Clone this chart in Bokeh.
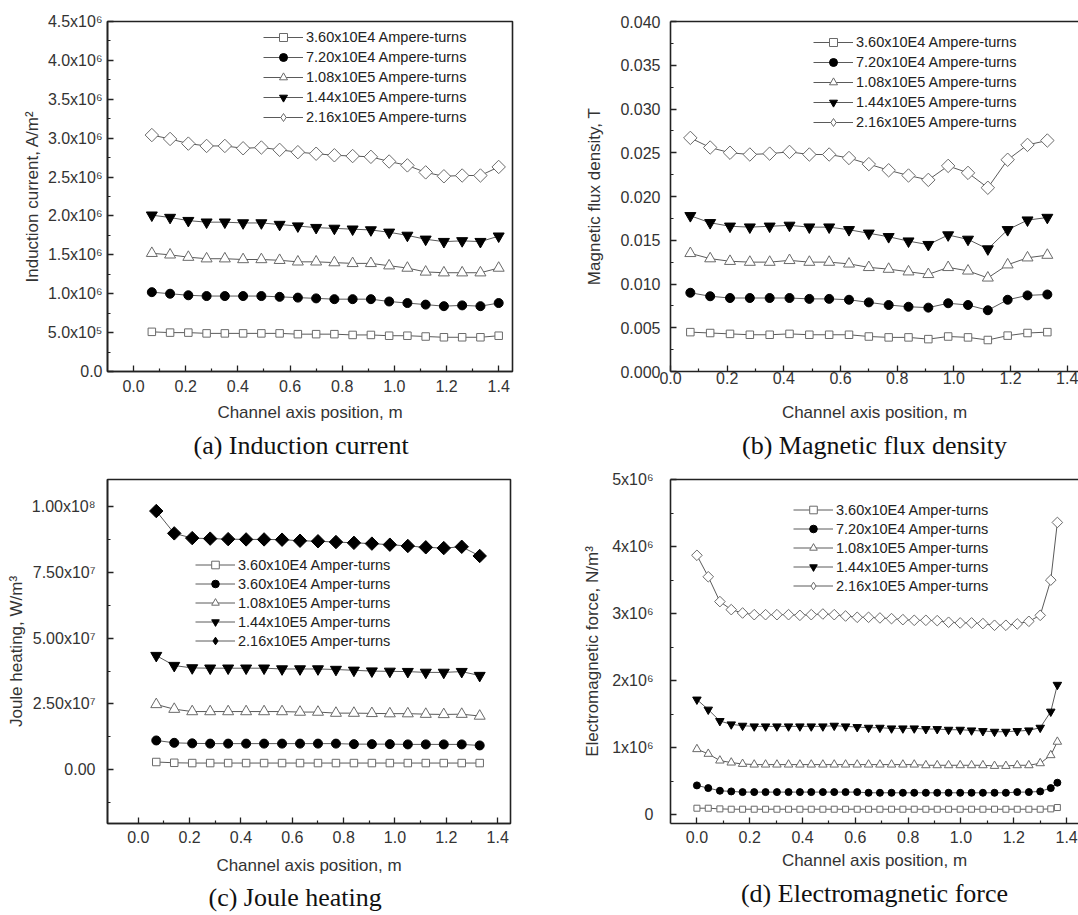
import math
from bokeh.plotting import figure
from bokeh.models import (FixedTicker, Range1d, LinearAxis, Legend, LegendItem, Title)
from bokeh.layouts import column, row
from bokeh.embed import file_html
from bokeh.resources import INLINE

FONT = "Liberation Sans"
SERIF = "Liberation Serif"

# ---------------- data ----------------
series_a = ["3.60x10E4 Ampere-turns", "7.20x10E4 Ampere-turns", "1.08x10E5 Ampere-turns",
            "1.44x10E5 Ampere-turns", "2.16x10E5 Ampere-turns"]
series_c = ["3.60x10E4 Amper-turns", "3.60x10E4 Amper-turns", "1.08x10E5 Amper-turns",
            "1.44x10E5 Amper-turns", "2.16x10E5 Amper-turns"]
series_d = ["3.60x10E4 Amper-turns", "7.20x10E4 Amper-turns", "1.08x10E5 Amper-turns",
            "1.44x10E5 Amper-turns", "2.16x10E5 Amper-turns"]

# (a) Induction current, A/m^2 (values in 1e6)
x_a = [0.07, 0.14, 0.21, 0.28, 0.35, 0.42, 0.49, 0.56, 0.63, 0.70,
       0.77, 0.84, 0.91, 0.98, 1.05, 1.12, 1.19, 1.26, 1.33, 1.40]
a_1 = [0.51, 0.50, 0.50, 0.49, 0.49, 0.49, 0.49, 0.49, 0.48, 0.48,
       0.48, 0.47, 0.47, 0.46, 0.46, 0.45, 0.44, 0.44, 0.44, 0.46]
a_2 = [1.02, 1.00, 0.98, 0.97, 0.97, 0.97, 0.97, 0.96, 0.95, 0.94,
       0.93, 0.93, 0.93, 0.90, 0.88, 0.86, 0.84, 0.85, 0.84, 0.88]
a_3 = [1.52, 1.50, 1.47, 1.45, 1.45, 1.44, 1.44, 1.43, 1.41, 1.41,
       1.40, 1.39, 1.39, 1.36, 1.33, 1.28, 1.27, 1.27, 1.27, 1.33]
a_4 = [2.01, 1.98, 1.94, 1.92, 1.92, 1.91, 1.91, 1.89, 1.87, 1.85,
       1.84, 1.83, 1.82, 1.79, 1.75, 1.70, 1.67, 1.68, 1.67, 1.74]
a_5 = [3.04, 2.99, 2.93, 2.90, 2.90, 2.87, 2.88, 2.85, 2.82, 2.80,
       2.78, 2.77, 2.76, 2.70, 2.65, 2.56, 2.51, 2.52, 2.52, 2.63]
a_unit = 1e6

# (b) Magnetic flux density, T
x_b = [0.07, 0.14, 0.21, 0.28, 0.35, 0.42, 0.49, 0.56, 0.63, 0.70,
       0.77, 0.84, 0.91, 0.98, 1.05, 1.12, 1.19, 1.26, 1.33]
b_1 = [0.0045, 0.0044, 0.0043, 0.0042, 0.0042, 0.0043, 0.0042, 0.0042, 0.0042, 0.0040,
       0.0039, 0.0039, 0.0037, 0.0040, 0.0039, 0.0036, 0.0041, 0.0044, 0.0045]
b_2 = [0.0090, 0.0086, 0.0084, 0.0084, 0.0084, 0.0084, 0.0083, 0.0083, 0.0082, 0.0079,
       0.0076, 0.0074, 0.0073, 0.0078, 0.0076, 0.0070, 0.0082, 0.0087, 0.0088]
b_3 = [0.0135, 0.0129, 0.0126, 0.0125, 0.0125, 0.0127, 0.0125, 0.0125, 0.0123, 0.0119,
       0.0117, 0.0114, 0.0111, 0.0119, 0.0115, 0.0107, 0.0122, 0.0130, 0.0133]
b_4 = [0.0178, 0.0170, 0.0166, 0.0165, 0.0166, 0.0167, 0.0165, 0.0165, 0.0162, 0.0158,
       0.0154, 0.0149, 0.0145, 0.0156, 0.0151, 0.0140, 0.0162, 0.0173, 0.0176]
b_5 = [0.0267, 0.0256, 0.0250, 0.0248, 0.0249, 0.0251, 0.0248, 0.0248, 0.0244, 0.0237,
       0.0230, 0.0224, 0.0219, 0.0235, 0.0227, 0.0210, 0.0242, 0.0259, 0.0264]

# (c) Joule heating, W/m^3 (values in 1e7)
x_c = [0.07, 0.14, 0.21, 0.28, 0.35, 0.42, 0.49, 0.56, 0.63, 0.70,
       0.77, 0.84, 0.91, 0.98, 1.05, 1.12, 1.19, 1.26, 1.33]
c_1 = [0.29, 0.26, 0.25, 0.25, 0.25, 0.25, 0.25, 0.25, 0.25, 0.25,
       0.25, 0.25, 0.25, 0.25, 0.25, 0.25, 0.25, 0.25, 0.25]
c_2 = [1.11, 1.02, 1.00, 0.99, 0.99, 0.99, 0.99, 0.99, 0.99, 0.99,
       0.99, 0.97, 0.97, 0.97, 0.96, 0.96, 0.96, 0.96, 0.92]
c_3 = [2.48, 2.30, 2.21, 2.21, 2.21, 2.21, 2.21, 2.21, 2.19, 2.19,
       2.15, 2.15, 2.14, 2.13, 2.13, 2.11, 2.10, 2.11, 2.04]
c_4 = [4.34, 3.96, 3.87, 3.86, 3.86, 3.86, 3.86, 3.83, 3.83, 3.83,
       3.81, 3.78, 3.75, 3.74, 3.73, 3.70, 3.70, 3.73, 3.58]
c_5 = [9.84, 8.99, 8.81, 8.79, 8.77, 8.76, 8.76, 8.75, 8.71, 8.69,
       8.66, 8.63, 8.60, 8.56, 8.51, 8.46, 8.43, 8.48, 8.13]
c_unit = 1e7

# (d) Electromagnetic force, N/m^3 (values in 1e6)
x_d = [0.0, 0.043, 0.087, 0.13, 0.173, 0.217, 0.26, 0.303, 0.347, 0.39,
       0.433, 0.477, 0.52, 0.563, 0.607, 0.65, 0.693, 0.737, 0.78, 0.823,
       0.867, 0.91, 0.953, 0.997, 1.04, 1.083, 1.127, 1.17, 1.213, 1.257,
       1.30, 1.34, 1.365]
d_1 = [0.10, 0.10, 0.09, 0.085, 0.085, 0.085, 0.085, 0.085, 0.085, 0.085,
       0.085, 0.085, 0.085, 0.085, 0.085, 0.085, 0.085, 0.085, 0.085, 0.085,
       0.085, 0.085, 0.085, 0.085, 0.085, 0.085, 0.085, 0.085, 0.085, 0.085,
       0.085, 0.09, 0.11]
d_2 = [0.44, 0.40, 0.36, 0.35, 0.34, 0.34, 0.34, 0.34, 0.34, 0.34,
       0.34, 0.34, 0.34, 0.34, 0.34, 0.33, 0.33, 0.33, 0.33, 0.33,
       0.33, 0.33, 0.33, 0.33, 0.33, 0.33, 0.33, 0.33, 0.34, 0.34,
       0.35, 0.40, 0.48]
d_3 = [0.98, 0.91, 0.81, 0.78, 0.76, 0.75, 0.75, 0.75, 0.75, 0.75,
       0.75, 0.75, 0.75, 0.75, 0.75, 0.75, 0.75, 0.75, 0.75, 0.75,
       0.74, 0.74, 0.74, 0.74, 0.74, 0.74, 0.73, 0.73, 0.74, 0.74,
       0.77, 0.89, 1.09]
d_4 = [1.72, 1.57, 1.40, 1.35, 1.33, 1.32, 1.32, 1.32, 1.32, 1.32,
       1.32, 1.32, 1.33, 1.32, 1.31, 1.30, 1.30, 1.29, 1.29, 1.29,
       1.28, 1.28, 1.27, 1.27, 1.26, 1.25, 1.24, 1.24, 1.25, 1.26,
       1.30, 1.54, 1.94]
d_5 = [3.87, 3.55, 3.18, 3.06, 3.01, 2.985, 2.985, 2.985, 2.985, 2.975,
       2.985, 2.995, 2.985, 2.965, 2.946, 2.946, 2.936, 2.926, 2.911, 2.901,
       2.901, 2.896, 2.872, 2.862, 2.862, 2.852, 2.827, 2.827, 2.847, 2.886,
       2.975, 3.50, 4.36]
d_unit = 1e6

# ticks
x_ticks = [0.0, 0.2, 0.4, 0.6, 0.8, 1.0, 1.2, 1.4]
x_tick_labels = ["0.0", "0.2", "0.4", "0.6", "0.8", "1.0", "1.2", "1.4"]
x_minor = [0.1, 0.3, 0.5, 0.7, 0.9, 1.1, 1.3]

a_ticks = [0, 500000, 1000000, 1500000, 2000000, 2500000, 3000000, 3500000, 4000000, 4500000]
a_labels = ["0.0", "5.0x10\u2075", "1.0x10\u2076", "1.5x10\u2076", "2.0x10\u2076", "2.5x10\u2076",
            "3.0x10\u2076", "3.5x10\u2076", "4.0x10\u2076", "4.5x10\u2076"]
a_minor = [250000, 750000, 1250000, 1750000, 2250000, 2750000, 3250000, 3750000, 4250000]

b_ticks = [0.0, 0.005, 0.01, 0.015, 0.02, 0.025, 0.03, 0.035, 0.04]
b_labels = ["0.000", "0.005", "0.010", "0.015", "0.020", "0.025", "0.030", "0.035", "0.040"]
b_minor = [0.0025, 0.0075, 0.0125, 0.0175, 0.0225, 0.0275, 0.0325, 0.0375]

c_ticks = [0, 25000000, 50000000, 75000000, 100000000]
c_labels = ["0.00", "2.50x10\u2077", "5.00x10\u2077", "7.50x10\u2077", "1.00x10\u2078"]
c_minor = [-12500000, 12500000, 37500000, 62500000, 87500000]

d_ticks = [0, 1000000, 2000000, 3000000, 4000000, 5000000]
d_labels = ["0", "1x10\u2076", "2x10\u2076", "3x10\u2076", "4x10\u2076", "5x10\u2076"]
d_minor = [500000, 1500000, 2500000, 3500000, 4500000]

# ---------------- styling helpers ----------------
INK = "#222222"
LINE = "#5a5a5a"
OPEN = "#6a6a6a"


def make_fig(width, height, xr, yr, borders, outline):
    left, right, top, bottom = borders
    p = figure(width=width, height=height, x_range=Range1d(*xr), y_range=Range1d(*yr),
               output_backend="svg", toolbar_location=None,
               min_border_left=left, min_border_right=right,
               min_border_top=top, min_border_bottom=bottom)
    p.xgrid.visible = False
    p.ygrid.visible = False
    p.background_fill_color = "white"
    p.border_fill_color = "white"
    xax = p.below[0]
    yax = p.left[0]
    if outline:
        p.outline_line_color = INK
        p.outline_line_width = 1.6
    else:
        p.outline_line_color = None
        top_ax = LinearAxis(ticker=FixedTicker(ticks=[]), axis_line_color=INK,
                            axis_line_width=1.6, major_tick_line_color=None,
                            minor_tick_line_color=None, major_tick_in=0, major_tick_out=0,
                            minor_tick_in=0, minor_tick_out=0, major_label_standoff=0,
                            major_label_text_font_size="0px")
        p.add_layout(top_ax, "above")
    return p, xax, yax


def style_axis(ax, ticks, labels, minor, label, label_standoff, axis_label_standoff):
    ax.ticker = FixedTicker(ticks=ticks, minor_ticks=minor)
    ax.major_label_overrides = dict(zip(ticks, labels))
    ax.axis_label = label
    ax.axis_line_color = INK
    ax.axis_line_width = 1.6
    ax.major_tick_line_color = INK
    ax.major_tick_line_width = 1.3
    ax.minor_tick_line_color = INK
    ax.minor_tick_line_width = 1.2
    ax.major_tick_in = 6
    ax.major_tick_out = 0
    ax.minor_tick_in = 3
    ax.minor_tick_out = 0
    ax.major_label_text_font = FONT
    ax.major_label_text_font_size = "16px"
    ax.major_label_text_color = "#333333"
    ax.major_label_standoff = label_standoff
    ax.axis_label_text_font = FONT
    ax.axis_label_text_font_size = "17px"
    ax.axis_label_text_font_style = "normal"
    ax.axis_label_text_color = "#333333"
    ax.axis_label_standoff = axis_label_standoff


def add_series(p, xs, ys_list, unit, labels, sizes, diamond_fill, legend_xy, row_h):
    dline = "black" if diamond_fill == "black" else OPEN
    specs = [
        dict(marker="square", fill_color="white", line_color=OPEN),
        dict(marker="circle", fill_color="black", line_color="black"),
        dict(marker="triangle", fill_color="white", line_color=OPEN),
        dict(marker="inverted_triangle", fill_color="black", line_color="black"),
        dict(marker="square", fill_color=diamond_fill, line_color=dline, angle=math.pi / 4),
    ]
    items = []
    for k, (ys, lab, spec, size) in enumerate(zip(ys_list, labels, specs, sizes)):
        yv = [v * unit for v in ys]
        lr = p.line(xs, yv, line_color=LINE, line_width=1)
        sr = p.scatter(xs, yv, size=size, line_width=1, **spec)
        if k == 4:
            # legend glyphs ignore marker angle: use a (hidden) diamond renderer for the key
            kr = p.scatter(xs, yv, marker="diamond", size=size, line_width=1,
                           fill_color=diamond_fill, line_color=dline, visible=False)
            items.append(LegendItem(label=lab, renderers=[lr, kr]))
        else:
            items.append(LegendItem(label=lab, renderers=[lr, sr]))
    leg = Legend(items=items, location=legend_xy, border_line_color=None,
                 background_fill_alpha=0, padding=0, margin=0, spacing=0,
                 glyph_width=40, glyph_height=row_h, label_height=row_h,
                 label_standoff=3, label_text_font=FONT, label_text_font_size="14.5px",
                 label_text_color="#222222")
    p.add_layout(leg)


def add_caption(p, text, standoff, align="center", offset=0):
    t = Title(text=text, align=align, offset=offset, text_font=SERIF, text_font_size="26px",
              text_font_style="normal", text_color="#111111", standoff=standoff)
    p.add_layout(t, "below")


XLABEL = "Channel axis position, m"

# (a)
pa, pa_x, pa_y = make_fig(540, 465, (-0.1, 1.453), (0, 4500000), (107, 28, 21, 94), True)
style_axis(pa_x, x_ticks, x_tick_labels, x_minor, XLABEL, 8, 8)
style_axis(pa_y, a_ticks, a_labels, a_minor, "Induction current, A/m\u00b2", 5, 3)
add_series(pa, x_a, [a_1, a_2, a_3, a_4, a_5], a_unit, series_a,
           [7.5, 9, 11, 11, 9.5], "white", (156, 244), 20)
add_caption(pa, "(a) Induction current", 8, "left", 86)

# (b)
pb, pb_x, pb_y = make_fig(538, 465, (0.0, 1.44), (0.0, 0.04), (130, 0, 21, 94), False)
style_axis(pb_x, x_ticks, x_tick_labels, x_minor, XLABEL, 0, 16)
style_axis(pb_y, b_ticks, b_labels, b_minor, "Magnetic flux density, T", 10, 13)
add_series(pb, x_b, [b_1, b_2, b_3, b_4, b_5], 1.0, series_a,
           [7.5, 9, 11, 11, 9.5], "white", (143, 239), 20)
add_caption(pb, "(b) Magnetic flux density", 8)

# (c)
pc, pc_x, pc_y = make_fig(540, 450, (-0.12, 1.45), (-20500000, 110400000), (107, 30, 14, 91), True)
style_axis(pc_x, x_ticks, x_tick_labels, x_minor, XLABEL, 7, 10)
style_axis(pc_y, c_ticks, c_labels, c_minor, "Joule heating, W/m\u00b3", 12, 3)
add_series(pc, x_c, [c_1, c_2, c_3, c_4, c_5], c_unit, series_c,
           [7.5, 9, 11, 11, 9.5], "black", (88, 173), 19)
add_caption(pc, "(c) Joule heating", 7, "left", 101)

# (d)
pd_, pd_x, pd_y = make_fig(538, 450, (-0.1, 1.445), (-128000, 5000000), (130, 0, 14, 91), False)
style_axis(pd_x, x_ticks, x_tick_labels, x_minor, XLABEL, 7, 5)
style_axis(pd_y, d_ticks, d_labels, d_minor, "Electromagnetic force, N/m\u00b3", 17, 7)
add_series(pd_, x_d, [d_1, d_2, d_3, d_4, d_5], d_unit, series_d,
           [6, 7, 8.5, 8.5, 7.5], "white", (123, 228), 19)
add_caption(pd_, "(d) Electromagnetic force", 8)

layout = column(row(pa, pb), row(pc, pd_))

with open("out.html", "w") as f:
    f.write(file_html(layout, INLINE))
